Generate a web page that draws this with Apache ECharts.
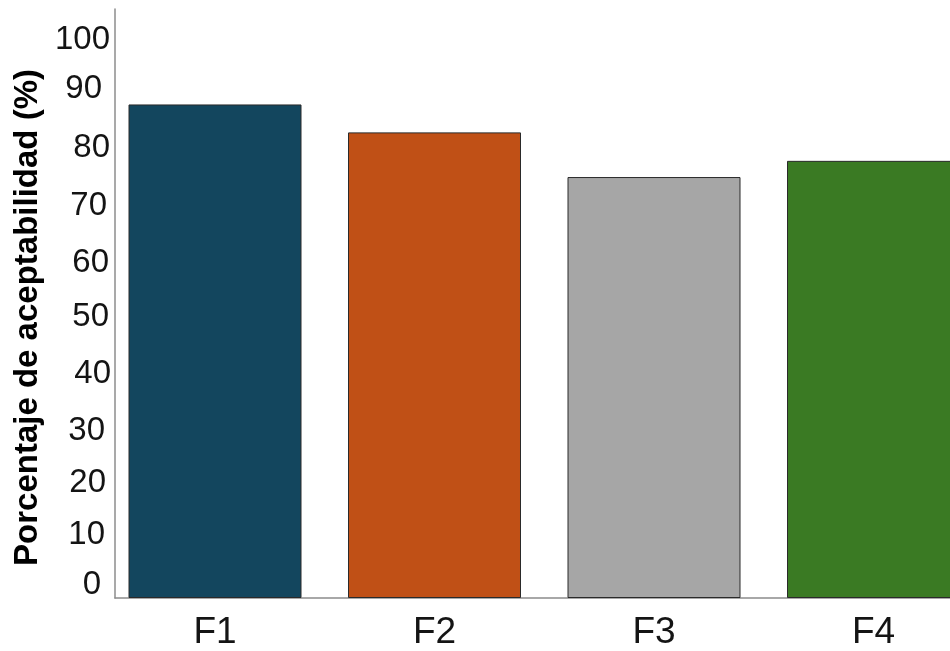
<!DOCTYPE html>
<html>
<head>
<meta charset="utf-8">
<script src="https://cdn.jsdelivr.net/npm/echarts@6/dist/echarts.min.js"></script>
<style>
  html, body { margin: 0; padding: 0; background: #ffffff; }
  #chart { width: 950px; height: 651px; }
</style>
</head>
<body>
<div id="chart"></div>
<script>
// Formulations and their acceptability percentage
const categories = ['F1', 'F2', 'F3', 'F4'];
const acceptability = [88.4, 83.4, 75.4, 78.3];
const barColors = ['#13465e', '#c05016', '#a6a6a6', '#3a7a23'];
const yTicks = [0, 10, 20, 30, 40, 50, 60, 70, 80, 90, 100];
const yTitle = 'Porcentaje de aceptabilidad (%)';

// Hand-placed look of the tick labels: pixel nudges (up, left) per tick
const tickNudgeUp   = [13.5, 7.5, 3, 0, 1, 1.5, 0.5, 1.5, 3.5, 6.5, 0];
const tickNudgeLeft = [10, 6, 5, 6, 0, 2, 2, 4, 1, 9, 1];

const tickRich = {};
yTicks.forEach((t, i) => {
  tickRich['t' + i] = {
    fontFamily: 'Liberation Sans, Arial, sans-serif',
    fontSize: 33,
    color: '#141414',
    padding: [0, tickNudgeLeft[i], 2 * tickNudgeUp[i], 0]
  };
});

const chart = echarts.init(document.getElementById('chart'), null, { renderer: 'canvas' });

chart.setOption({
  animation: false,
  backgroundColor: '#ffffff',
  grid: { left: 115, right: 0, top: 9, bottom: 51, containLabel: false },
  xAxis: {
    type: 'value',
    min: -0.4556,
    max: 3.3485,
    splitLine: { show: false },
    axisTick: { show: false },
    axisLine: { show: true, onZero: false, lineStyle: { color: '#8c8c8c', width: 1.5 } },
    axisLabel: {
      customValues: categories.map((c, i) => i),
      formatter: (v) => categories[Math.round(v)],
      fontFamily: 'Liberation Sans, Arial, sans-serif',
      fontSize: 37,
      color: '#141414',
      margin: 16
    }
  },
  yAxis: {
    type: 'value',
    min: 0,
    max: 105.5,
    splitLine: { show: false },
    axisTick: { show: false },
    axisLine: { show: true, onZero: false, lineStyle: { color: '#8c8c8c', width: 1.5 } },
    axisLabel: {
      customValues: yTicks,
      margin: 4,
      formatter: (v) => {
        const i = yTicks.indexOf(v);
        return '{t' + i + '|' + v + '}';
      },
      rich: tickRich
    },
    name: yTitle,
    nameLocation: 'middle',
    nameGap: 71,
    nameTextStyle: {
      fontFamily: 'Liberation Sans, Arial, sans-serif',
      fontSize: 33,
      fontWeight: 'bold',
      color: '#000000',
      padding: [0, 28, 0, 0]
    }
  },
  series: [{
    type: 'bar',
    barWidth: 173,
    data: acceptability.map((v, i) => ({
      value: [i, v],
      itemStyle: { color: barColors[i] }
    })),
    itemStyle: { borderColor: '#2a2a2a', borderWidth: 1 }
  }]
});
</script>
</body>
</html>
